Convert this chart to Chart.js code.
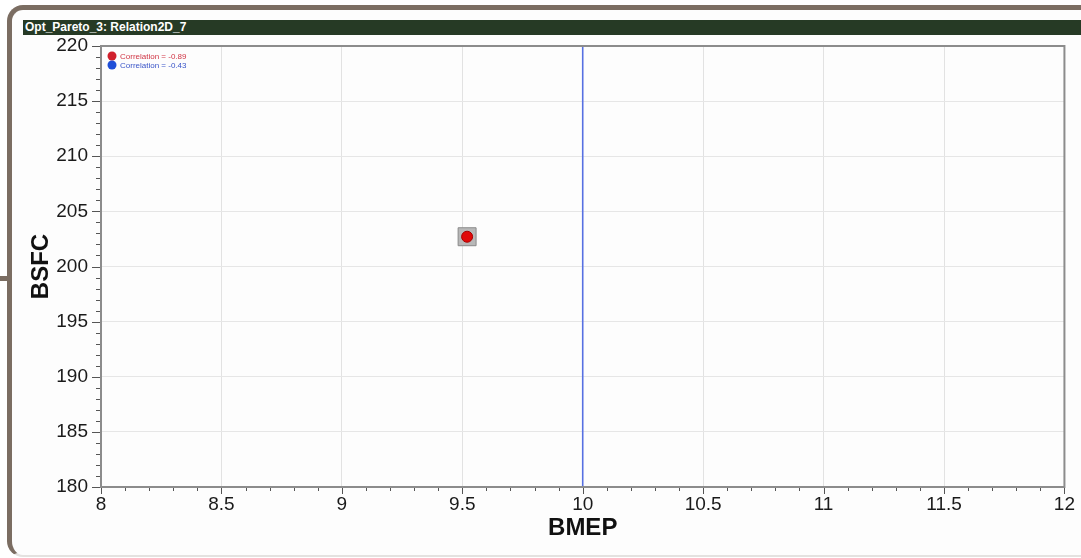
<!DOCTYPE html>
<html>
<head>
<meta charset="utf-8">
<script src="https://cdn.jsdelivr.net/npm/chart.js@4/dist/chart.umd.min.js"></script>
<style>
  html, body { margin: 0; padding: 0; background: #fff; }
  #wrap { position: relative; width: 1081px; height: 558px; overflow: hidden; background: #fff; }
  #frame {
    position: absolute; left: 7px; top: 5px; width: 1100px; height: 545px;
    border-left: 5px solid #7b6d62; border-top: 5px solid #7b6d62; border-bottom: 2px solid #e4e2e0;
    border-radius: 16px 0 0 16px; background: #fdfdfd;
  }
  #stub { position: absolute; left: 0; top: 276px; width: 10px; height: 5px; background: #7b6d62; }
  #titlebar {
    position: absolute; left: 23px; top: 20px; width: 1056px; height: 15px; background: #263a25;
    color: #fff; font: bold 12px "Liberation Sans", Arial, sans-serif; line-height: 15px; padding-left: 2px;
  }
  #c { position: absolute; left: 0; top: 0; }
</style>
</head>
<body>
<div id="wrap">
  <div id="frame"></div>
  <div id="stub"></div>
  <div id="titlebar">Opt_Pareto_3: Relation2D_7</div>
  <canvas id="c" width="1081" height="558"></canvas>
</div>
<script>
// datos
const paretoX = [9.52];
const paretoY = [202.7];
const limitX = [10, 10];
const limitY = [180, 220];
const legendLabels = ["Correlation = -0.89", "Correlation = -0.43"];
const legendColors = ["#d0202c", "#1f4fd8"];
const legendTextColors = ["#d03545", "#3a55c8"];
const xTicks = [8, 8.5, 9, 9.5, 10, 10.5, 11, 11.5, 12];
const yTicks = [180, 185, 190, 195, 200, 205, 210, 215, 220];

const FONT = "'Liberation Sans', Arial, sans-serif";

const toPoints = (xs, ys) => xs.map((x, i) => ({ x, y: ys[i] }));

// Plugin: marco del area, ticks menores y leyenda dentro del grafico
const frameTicksLegend = {
  id: "frameTicksLegend",
  afterDraw(c) {
    const ctx = c.ctx;
    const a = c.chartArea;
    const sx = c.scales.x, sy = c.scales.y;
    ctx.save();
    // borde del area
    ctx.strokeStyle = "#8c8c8c";
    ctx.lineWidth = 2;
    ctx.strokeRect(a.left, a.top, a.right - a.left, a.bottom - a.top);

    // ticks en x (cada 0.1, mayores cada 0.5)
    ctx.strokeStyle = "#555";
    ctx.lineWidth = 1;
    ctx.beginPath();
    for (let i = 80; i <= 120; i++) {
      const px = Math.round(sx.getPixelForValue(i / 10)) + 0.5;
      const len = i % 5 === 0 ? 6 : 3;
      ctx.moveTo(px, a.bottom + 1);
      ctx.lineTo(px, a.bottom + 1 + len);
    }
    // ticks en y (cada 1, mayores cada 5)
    for (let v = 180; v <= 220; v++) {
      const py = Math.round(sy.getPixelForValue(v)) + 0.5;
      const len = v % 5 === 0 ? 8 : 4;
      ctx.moveTo(a.left - 1, py);
      ctx.lineTo(a.left - 1 - len, py);
    }
    ctx.stroke();

    // leyenda
    ctx.font = "8px " + FONT;
    ctx.textBaseline = "middle";
    legendLabels.forEach((lbl, i) => {
      const y = a.top + 10 + i * 9;
      ctx.beginPath();
      ctx.arc(a.left + 11, y, 4.5, 0, Math.PI * 2);
      ctx.fillStyle = legendColors[i];
      ctx.fill();
      ctx.fillStyle = legendTextColors[i];
      ctx.fillText(lbl, a.left + 19, y + 0.5);
    });
    ctx.restore();
  },
};

// Chart.js dibuja el dataset 0 encima de todos
new Chart(document.getElementById("c"), {
  type: "scatter",
  data: {
    datasets: [
      {
        label: legendLabels[0],
        data: toPoints(paretoX, paretoY),
        pointStyle: "circle",
        pointRadius: 5.5,
        backgroundColor: "#e00a0a",
        borderColor: "#a80000",
        borderWidth: 1,
      },
      {
        // recuadro de seleccion alrededor del punto
        label: "sel",
        data: toPoints(paretoX, paretoY),
        pointStyle: "rect",
        pointRadius: 12.7,
        backgroundColor: "#b8b8b8",
        borderColor: "#8a8a8a",
        borderWidth: 1,
      },
      {
        // linea vertical (segunda serie)
        type: "line",
        label: legendLabels[1],
        data: toPoints(limitX, limitY),
        borderColor: "#5770e2",
        borderWidth: 1.6,
        pointRadius: 0,
        fill: false,
      },
    ],
  },
  options: {
    responsive: false,
    animation: false,
    layout: { padding: { left: 0, top: 46, right: 16, bottom: 0 } },
    scales: {
      x: {
        type: "linear",
        min: 8,
        max: 12,
        afterFit: (s) => { s.height = 71; },
        afterBuildTicks: (s) => { s.ticks = xTicks.map((v) => ({ value: v })); },
        grid: { color: "#e2e2e2", borderDash: [2, 2], drawTicks: false },
        border: { display: false },
        ticks: {
          autoSkip: false, maxRotation: 0, padding: 6, color: "#1a1a1a",
          font: { family: FONT, size: 19 },
          callback: (v) => String(v),
        },
        title: { display: true, text: "BMEP", color: "#111", padding: { bottom: 15 }, font: { family: FONT, size: 24, weight: "bold" } },
      },
      y: {
        type: "linear",
        min: 180,
        max: 220,
        afterFit: (s) => { s.width = 101; },
        afterBuildTicks: (s) => { s.ticks = yTicks.map((v) => ({ value: v })); },
        grid: { color: "#e6e6e6", drawTicks: false },
        border: { display: false },
        ticks: { padding: 13, color: "#1a1a1a", font: { family: FONT, size: 19 }, callback: (v) => String(v) },
        title: { display: true, text: "BSFC", color: "#111", padding: { top: 27 }, font: { family: FONT, size: 24, weight: "bold" } },
      },
    },
    plugins: {
      legend: { display: false },
      tooltip: { enabled: false },
    },
  },
  plugins: [frameTicksLegend],
});
</script>
</body>
</html>
